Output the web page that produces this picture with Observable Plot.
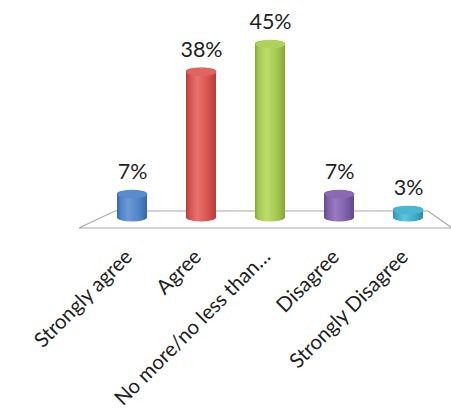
<!DOCTYPE html>
<html>
<head>
<meta charset="utf-8">
<script src="https://cdn.jsdelivr.net/npm/d3@7"></script>
<script src="https://cdn.jsdelivr.net/npm/@observablehq/plot@0.6"></script>
<style>
  html, body { margin: 0; padding: 0; background: #fff; }
  #chart svg { display: block; }
</style>
</head>
<body>
<div id="chart"></div>
<script>
// Survey responses (percent of respondents)
const categories = ["Strongly agree", "Agree", "No more/no less than…", "Disagree", "Strongly Disagree"];
const values = [7, 38, 45, 7, 3];

// Cylinder shading per category: [edge, base, highlight, cap]
const shades = [
  ["#3766a8", "#4f81c6", "#6c9ad8", "#5a8bcf"],
  ["#b73c39", "#d4524e", "#e8736f", "#e06460"],
  ["#84a53a", "#a3c850", "#bedd6c", "#afd25c"],
  ["#62488b", "#7d5ea8", "#987ac2", "#8a6ab5"],
  ["#2a8caa", "#3eaac8", "#62c4de", "#4cb6d2"]
];

const data = categories.map((category, i) => ({
  category,
  value: values[i],
  body: `url(#cyl-${i})`,
  cap: shades[i][3]
}));

// Elliptical symbol used for the top face of each cylinder
const ellipse = {
  draw(context, size) {
    const rx = Math.sqrt(size / Math.PI);
    const ry = rx * 0.27;
    const k = 0.5523;
    context.moveTo(rx, 0);
    context.bezierCurveTo(rx, ry * k, rx * k, ry, 0, ry);
    context.bezierCurveTo(-rx * k, ry, -rx, ry * k, -rx, 0);
    context.bezierCurveTo(-rx, -ry * k, -rx * k, -ry, 0, -ry);
    context.bezierCurveTo(rx * k, -ry, rx, -ry * k, rx, 0);
    context.closePath();
  }
};

// Horizontal gradients that give the bars their rounded look
function gradients() {
  const g = d3.create("svg:g");
  const defs = g.append("defs");
  shades.forEach(([edge, base, light], i) => {
    const lg = defs.append("linearGradient")
      .attr("id", `cyl-${i}`)
      .attr("x1", "0%").attr("x2", "100%").attr("y1", "0%").attr("y2", "0%");
    [[0, edge], [0.12, base], [0.38, light], [0.75, base], [1, edge]].forEach(([o, c]) =>
      lg.append("stop").attr("offset", o).attr("stop-color", c));
  });
  return g.node();
}

// Perspective floor under the bars
function floor(index, scales, values, dimensions) {
  const {width, marginLeft, marginRight} = dimensions;
  const y0 = scales.y(0);
  const left = marginLeft, right = width - marginRight;
  const pts = [
    [left + 18, y0 - 10.5],
    [right - 15, y0 - 10.5],
    [right + 9, y0 + 6.5],
    [left - 18, y0 + 6.5]
  ];
  return d3.create("svg:path")
    .attr("d", "M" + pts.join("L") + "Z")
    .attr("fill", "#ffffff")
    .attr("stroke", "#a8a8a8")
    .attr("stroke-width", 1.1)
    .node();
}

const chart = Plot.plot({
  width: 451,
  height: 412,
  marginTop: 24,
  marginBottom: 190.5,
  marginLeft: 96.9,
  marginRight: 7.9,
  style: {fontFamily: "Lato, 'Open Sans', sans-serif", background: "#fff"},
  x: {domain: categories, paddingInner: 0.567, paddingOuter: 0.2835, axis: null},
  y: {domain: [0, 50], axis: null},
  color: {type: "identity"},
  marks: [
    gradients,
    floor,
    Plot.barY(data, {x: "category", y: "value", fill: "body", rx: 15, ry: 4, insetTop: -4}),
    Plot.dot(data, {x: "category", y: "value", r: 15, symbol: ellipse, fill: "cap"}),
    Plot.text(data, {
      x: "category", y: "value", text: d => `${d.value}%`,
      dy: -22, fontSize: 21.5, fill: "#1e1e1e"
    }),
    Plot.text(data, {
      x: "category", text: "category", frameAnchor: "bottom",
      rotate: -45, textAnchor: "end", dy: 36, dx: 1,
      fontSize: 20.5, fill: "#1e1e1e"
    })
  ]
});

document.getElementById("chart").appendChild(chart);
</script>
</body>
</html>
